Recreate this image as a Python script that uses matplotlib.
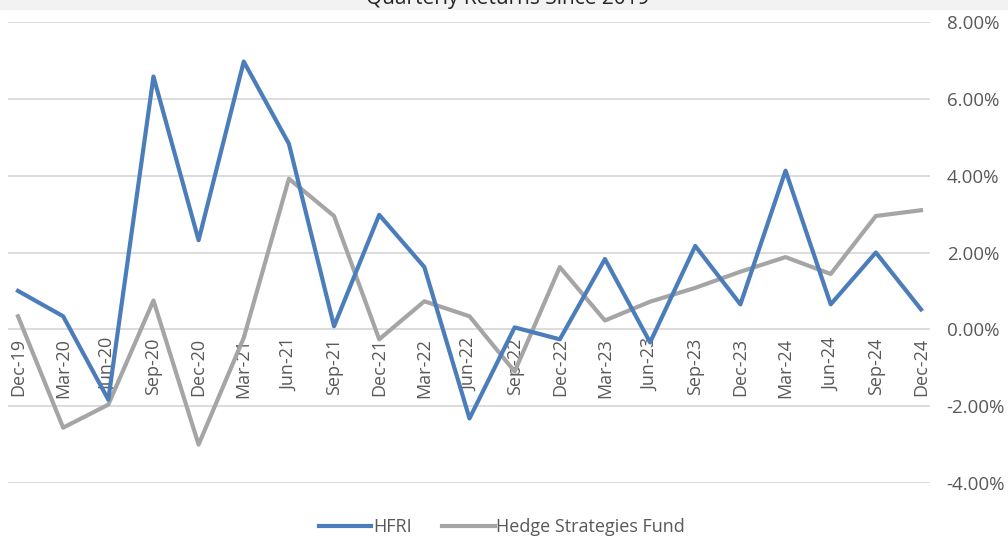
import matplotlib
matplotlib.use('Agg')
import matplotlib.pyplot as plt
from matplotlib.ticker import FuncFormatter, MultipleLocator
from matplotlib.patches import Rectangle

quarters = ['Dec-19', 'Mar-20', 'Jun-20', 'Sep-20', 'Dec-20', 'Mar-21', 'Jun-21',
            'Sep-21', 'Dec-21', 'Mar-22', 'Jun-22', 'Sep-22', 'Dec-22', 'Mar-23',
            'Jun-23', 'Sep-23', 'Dec-23', 'Mar-24', 'Jun-24', 'Sep-24', 'Dec-24']
hfri = [1.00, 0.34, -1.83, 6.58, 2.32, 6.97, 4.83, 0.08, 2.98, 1.62, -2.32,
        0.05, -0.26, 1.83, -0.34, 2.17, 0.65, 4.13, 0.65, 2.00, 0.52]
hsf = [0.34, -2.56, -1.96, 0.75, -3.00, -0.22, 3.92, 2.95, -0.26, 0.73, 0.34,
       -1.10, 1.62, 0.23, 0.72, 1.08, 1.50, 1.88, 1.44, 2.95, 3.10]
title = 'Quarterly Returns Since 2019'

W, H = 1008, 537
fig = plt.figure(figsize=(W / 100, H / 100), dpi=100)
fig.patch.set_facecolor('white')
fig.patches.append(Rectangle((0, 1 - 10 / H), 1, 10 / H, transform=fig.transFigure,
                             facecolor='#f2f2f2', edgecolor='none', zorder=0))
fig.text(508 / W, 1 - 4 / H, title, ha='center', va='baseline', fontsize=15,
         family='Open Sans', color='#262626')

ax = fig.add_axes([8 / W, 54 / H, 922 / W, 461 / H])
x = list(range(len(quarters)))
ax.plot(x, hfri, color='#4a7dba', lw=3.0, label='HFRI', solid_joinstyle='round', zorder=3)
ax.plot(x, hsf, color='#a5a5a5', lw=3.0, label='Hedge Strategies Fund',
        solid_joinstyle='round', zorder=2)

ax.set_ylim(-4, 8)
ax.set_xlim(-10 / 45.15, 20 + 9 / 45.15)
ax.yaxis.set_major_locator(MultipleLocator(2))
ax.yaxis.set_major_formatter(FuncFormatter(lambda v, p: f'{v:.2f}%'))
ax.yaxis.tick_right()
ax.tick_params(axis='y', length=0, pad=12, labelsize=13.5, labelcolor='#595959')
for lab in ax.get_yticklabels():
    lab.set_family('Open Sans')
ax.grid(axis='y', color='#d9d9d9', lw=1.3)
ax.set_axisbelow(True)
for s in ax.spines.values():
    s.set_visible(False)
ax.spines['bottom'].set_position(('data', 0))

ax.set_xticks(x)
ax.set_xticklabels(quarters, rotation=90, family='Open Sans')
ax.tick_params(axis='x', length=0, pad=6, labelsize=13, labelcolor='#595959')

leg = fig.legend(loc='center', bbox_to_anchor=(502 / W, 1 - 527 / H), ncol=2,
                 frameon=False, prop={'family': 'Open Sans', 'size': 13},
                 handlelength=2.9, handletextpad=0.1, columnspacing=1.7)
for t in leg.get_texts():
    t.set_color('#595959')

fig.savefig('out.png', dpi=100)
